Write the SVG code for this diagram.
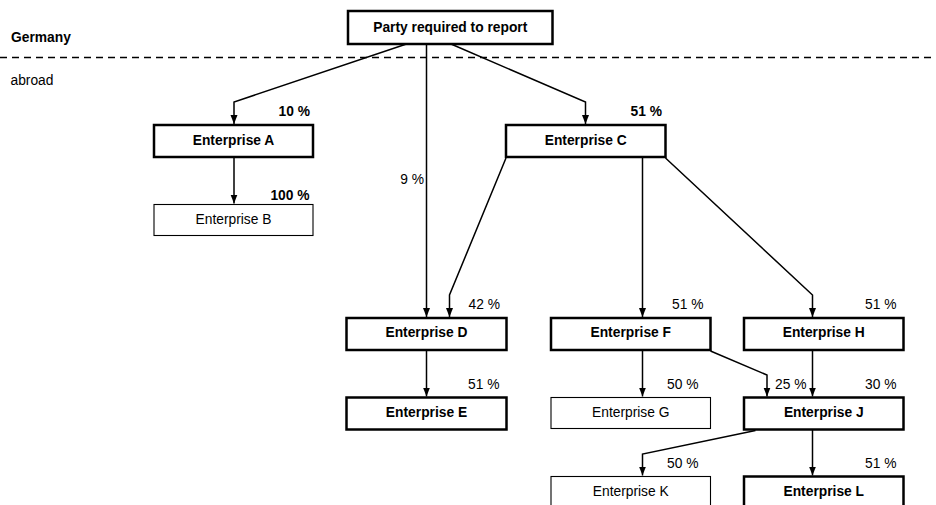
<svg xmlns="http://www.w3.org/2000/svg" width="936" height="505" viewBox="0 0 936 505">
<style>
text{font-family:"Liberation Sans",Arial,sans-serif;font-size:13.8px;fill:#000}
.b{font-weight:bold}
.c{text-anchor:middle}
.e{text-anchor:end}
.bx{fill:#fff;stroke:#000;stroke-width:2.5}
.tb{fill:#fff;stroke:#000;stroke-width:1.1}
.ln{fill:none;stroke:#000;stroke-width:1.5;marker-end:url(#ah)}
</style>
<defs>
<marker id="ah" markerUnits="userSpaceOnUse" markerWidth="10" markerHeight="8" refX="9" refY="3.5" orient="auto">
<path d="M0,0 L9,3.5 L0,7 z" fill="#000"/>
</marker>
</defs>
<rect width="936" height="505" fill="#fff"/>
<text class="b" x="11" y="41.7">Germany</text>
<line x1="0" y1="57.5" x2="936" y2="57.5" stroke="#000" stroke-width="1.6" stroke-dasharray="7,5"/>
<text x="10.5" y="85">abroad</text>
<g id="connectors">
<path class="ln" d="M406.5,44 L234,102 L234,124"/>
<path class="ln" d="M426.5,44 L426.5,317"/>
<path class="ln" d="M451,44 L585.5,102 L585.5,124"/>
<path class="ln" d="M234,157 L234,203.5"/>
<path class="ln" d="M506,158 L449.5,295 L449.5,317"/>
<path class="ln" d="M642.5,157 L642.5,317"/>
<path class="ln" d="M665.5,158 L812.5,295 L812.5,317"/>
<path class="ln" d="M426.5,350 L426.5,396.5"/>
<path class="ln" d="M642.5,350 L642.5,396.5"/>
<path class="ln" d="M710.5,351 L767,375 L767,396.5"/>
<path class="ln" d="M812.5,350 L812.5,396.5"/>
<path class="ln" d="M755.5,430.5 L642.5,454 L642.5,475.5"/>
<path class="ln" d="M812.5,430 L812.5,475.5"/>
<text class="b e" x="310" y="116">10 %</text>
<text class="b e" x="309.5" y="200">100 %</text>
<text class="b e" x="662" y="116">51 %</text>
<text class="e" x="424" y="184">9 %</text>
<text class="e" x="500" y="309">42 %</text>
<text class="e" x="703.5" y="308.5">51 %</text>
<text class="e" x="896.5" y="308.5">51 %</text>
<text class="e" x="499.5" y="389">51 %</text>
<text class="e" x="698.5" y="389">50 %</text>
<text class="e" x="806.5" y="389">25 %</text>
<text class="e" x="896.5" y="389">30 %</text>
<text class="e" x="698.5" y="467.7">50 %</text>
<text class="e" x="896.5" y="467.7">51 %</text>
</g>
<g id="top"><rect class="bx" x="348" y="11" width="204.5" height="33"/><text class="b c" x="450.25" y="32">Party required to report</text></g>
<g id="A"><rect class="bx" x="154" y="125" width="159" height="32"/><text class="b c" x="233.5" y="144.5">Enterprise A</text></g>
<g id="B"><rect class="tb" x="154" y="204.5" width="159" height="31"/><text class="c" x="233.5" y="223.5">Enterprise B</text></g>
<g id="C"><rect class="bx" x="506" y="125" width="159.5" height="32"/><text class="b c" x="585.75" y="144.5">Enterprise C</text></g>
<g id="D"><rect class="bx" x="346.5" y="318" width="160" height="32"/><text class="b c" x="426.5" y="337">Enterprise D</text></g>
<g id="E"><rect class="bx" x="346.5" y="397.5" width="160" height="32"/><text class="b c" x="426.5" y="417">Enterprise E</text></g>
<g id="F"><rect class="bx" x="551" y="318" width="159.5" height="32"/><text class="b c" x="630.75" y="337">Enterprise F</text></g>
<g id="G"><rect class="tb" x="551" y="397.5" width="159.5" height="31"/><text class="c" x="630.75" y="417">Enterprise G</text></g>
<g id="H"><rect class="bx" x="744" y="318" width="159.5" height="32"/><text class="b c" x="823.75" y="337">Enterprise H</text></g>
<g id="J"><rect class="bx" x="744" y="397.5" width="159.5" height="32"/><text class="b c" x="823.75" y="417">Enterprise J</text></g>
<g id="K"><rect class="tb" x="551" y="476.5" width="159.5" height="40"/><text class="c" x="630.75" y="496">Enterprise K</text></g>
<g id="L"><rect class="bx" x="744" y="476.5" width="159.5" height="40"/><text class="b c" x="823.75" y="496">Enterprise L</text></g>
</svg>
